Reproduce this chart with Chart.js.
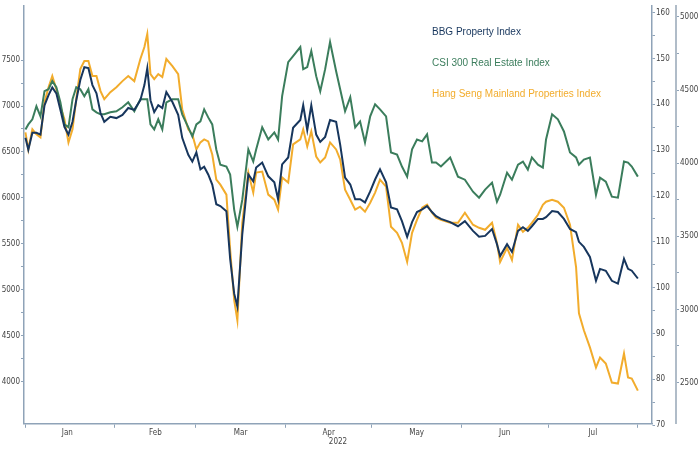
<!DOCTYPE html>
<html><head><meta charset="utf-8">
<script src="https://cdn.jsdelivr.net/npm/chart.js@4"></script>
<style>html,body{margin:0;padding:0;background:#fff;overflow:hidden}#c{display:block}</style>
</head><body><canvas id="c" width="700" height="449"></canvas>
<script>
// day of year 2022 (0 = Jan 1)
const days=[0,1.0,2.4,3.8,5.2,6.6,8.0,9.3,10.7,12.1,13.5,14.9,16.3,17.6,19.0,20.4,21.8,23.2,24.6,26.0,27.3,29.4,31.5,33.6,35.6,37.7,39.8,41.2,42.2,43.3,44.6,46.0,47.4,48.8,50.9,52.9,54.3,56.4,57.8,59.2,60.6,61.9,63.3,64.7,66.1,67.5,69.6,70.9,72.3,73.4,75.1,77.2,78.9,79.9,82.0,84.1,86.2,87.5,88.9,91.0,92.7,95.2,96.2,97.6,99.0,100.7,102.1,103.8,105.5,107.6,109.0,110.7,112.5,114.2,115.9,117.6,119.4,121.1,122.8,124.9,126.6,128.7,130.4,132.2,133.9,135.6,137.4,139.1,140.8,142.2,143.9,147.1,149.8,152.2,155.0,157.1,159.2,161.6,163.3,164.4,166.8,168.5,170.6,172.3,174.0,175.4,177.5,179.2,180.3,182.4,184.4,186.5,188.6,190.7,191.7,193.4,195.5,197.6,199.0,201.0,203.1,205.2,207.3,208.7,210.0,212.1];
const bbg=[132.7,130.1,133.8,133.8,133.4,139.8,142.0,143.7,142.4,138.8,135.1,133.4,136.2,140.9,145.3,148.1,147.9,144.2,142.4,138.1,136.2,137.3,137.0,137.7,139.2,138.8,140.9,144.2,147.9,140.9,138.3,139.8,139.2,142.7,140.5,137.7,132.7,129.0,127.5,129.5,125.8,126.4,124.7,122.5,118.2,117.8,116.7,106.3,98.7,95.9,111.7,124.7,123.2,126.2,127.3,124.3,123.0,119.3,126.9,128.4,134.9,136.6,139.8,134.4,139.8,133.4,131.8,132.9,136.6,136.2,131.2,124.0,122.5,119.3,119.3,118.6,121.0,123.6,125.8,123.0,117.5,117.1,114.5,111.1,114.3,116.5,117.1,117.8,116.5,115.6,115.0,114.3,113.4,114.5,112.4,111.1,111.3,112.8,109.5,106.9,109.5,107.8,112.4,113.2,112.4,113.4,115.0,115.0,115.4,116.7,116.5,115.0,112.8,112.1,110.0,108.9,106.7,101.5,104.1,103.7,101.5,100.9,106.3,104.1,103.7,102.0];
const csi=[4231,4265,4300,4389,4320,4492,4506,4561,4519,4416,4265,4245,4437,4519,4506,4458,4506,4368,4348,4334,4334,4348,4355,4382,4416,4355,4437,4437,4437,4265,4231,4300,4231,4416,4437,4437,4334,4245,4183,4265,4286,4368,4313,4265,4094,3990,3977,3922,3681,3565,3750,4094,4011,4094,4245,4162,4210,4162,4458,4691,4732,4794,4643,4657,4767,4595,4492,4643,4829,4629,4506,4355,4451,4245,4286,4142,4320,4403,4368,4320,4073,4059,3977,3908,4094,4162,4149,4197,4004,4004,3977,4039,3908,3887,3805,3764,3819,3867,3736,3784,3935,3887,3990,4011,3956,4039,3990,3970,4162,4334,4300,4217,4073,4039,3990,4025,4039,3784,3901,3874,3771,3764,4011,4004,3977,3908];
const hs=[6713,6527,6746,6691,6658,7041,7205,7326,7183,6997,6855,6604,6746,7074,7402,7490,7490,7326,7326,7162,7074,7151,7205,7271,7326,7271,7512,7643,7785,7348,7293,7348,7315,7512,7435,7348,6965,6746,6691,6527,6604,6636,6615,6472,6199,6144,6035,5433,4886,4667,5728,6275,6057,6275,6286,6035,5980,5871,6221,6166,6582,6636,6746,6560,6724,6450,6385,6440,6604,6527,6418,6089,5980,5871,5903,5849,5947,6057,6199,6122,5685,5619,5510,5302,5619,5761,5892,5925,5838,5783,5761,5728,5728,5838,5707,5674,5652,5728,5510,5302,5455,5324,5707,5630,5674,5728,5816,5925,5958,5980,5958,5892,5707,5247,4744,4558,4372,4153,4262,4197,3989,3978,4306,4044,4033,3901];
const monthStarts=[0,31,59,90,120,151,181,212];
const monthMids=[14.5,45,74.5,105,135.5,166,196.5];
const monthNames=['Jan','Feb','Mar','Apr','May','Jun','Jul'];
const leftTicks=[4000,4500,5000,5500,6000,6500,7000,7500];
const innerTicks=[70,80,90,100,110,120,130,140,150,160];
const outerTicks=[2500,3000,3500,4000,4500,5000];
const names=['BBG Property Index','CSI 300 Real Estate Index','Hang Seng Mainland Properties Index'];
const colors=['#17365d','#3b7d5c','#f2ac2c'];

const mk=(arr)=>arr.map((v,i)=>({x:days[i],y:v}));
const axisCol='#8fa3b8', tickFont={family:'DejaVu Sans Condensed, DejaVu Sans',size:8};
function minorize(list){const out=[];for(let i=0;i<list.length;i++){out.push({value:list[i]});if(i<list.length-1)out.push({value:(list[i]+list[i+1])/2});}return out;}
const legendPlugin={id:'lg',afterDraw(ch){const c=ch.ctx;c.save();c.font='10px "Liberation Sans", Arial';c.textBaseline='middle';
  names.forEach((n,i)=>{c.fillStyle=colors[i];c.fillText(n,432,32+i*31);});c.restore();}};
new Chart(document.getElementById('c'),{type:'line',
 data:{datasets:[
  {label:names[0],data:mk(bbg),yAxisID:'yIn',borderColor:colors[0],borderWidth:2,pointRadius:0,tension:0},
  {label:names[1],data:mk(csi),yAxisID:'yOut',borderColor:colors[1],borderWidth:2,pointRadius:0,tension:0},
  {label:names[2],data:mk(hs),yAxisID:'yL',borderColor:colors[2],borderWidth:2,pointRadius:0,tension:0}]},
 options:{responsive:false,animation:false,devicePixelRatio:1,
  layout:{padding:{top:1,left:0,right:0,bottom:0}},
  plugins:{legend:{display:false},tooltip:{enabled:false}},
  scales:{
   x:{type:'linear',min:-0.5,max:217,
     afterBuildTicks:s=>{s.ticks=monthStarts.map(v=>({value:v})).concat(monthMids.map(v=>({value:v}))).sort((a,b)=>a.value-b.value);},
     ticks:{autoSkip:false,maxRotation:0,font:tickFont,color:'#444',padding:0,
       callback:(v)=>{const i=monthMids.indexOf(v);return i>=0?monthNames[i]:'';}},
     grid:{drawOnChartArea:false,tickLength:4,color:c=>c.tick&&monthStarts.includes(c.tick.value)?axisCol:'rgba(0,0,0,0)'},
     border:{color:axisCol,width:1.5},
     title:{display:true,text:'2022',font:tickFont,color:'#444',padding:{top:0,bottom:2}}},
   yL:{position:'left',min:3540,max:8091,afterBuildTicks:s=>{s.ticks=minorize(leftTicks);},
     afterFit:s=>{s.width=24;},
     ticks:{autoSkip:false,font:tickFont,color:'#444',padding:1,callback:v=>leftTicks.includes(v)?v:''},
     grid:{drawOnChartArea:false,tickLength:3,color:axisCol},border:{color:axisCol,width:1.5}},
   yIn:{position:'right',min:70.3,max:161.5,afterBuildTicks:s=>{s.ticks=minorize(innerTicks);},
     afterFit:s=>{s.width=24;},
     ticks:{autoSkip:false,font:tickFont,color:'#444',padding:1,callback:v=>innerTicks.includes(v)?v:''},
     grid:{drawOnChartArea:false,tickLength:3,color:axisCol},border:{color:axisCol,width:1.5}},
   yOut:{position:'right',min:2218,max:5076,afterBuildTicks:s=>{s.ticks=minorize(outerTicks);},
     afterFit:s=>{s.width=24;},
     ticks:{autoSkip:false,font:tickFont,color:'#444',padding:1,callback:v=>outerTicks.includes(v)?v:''},
     grid:{drawOnChartArea:false,tickLength:3,color:axisCol},border:{color:'#b0bcc8',width:2}}
  }}, plugins:[legendPlugin]});
</script></body></html>
